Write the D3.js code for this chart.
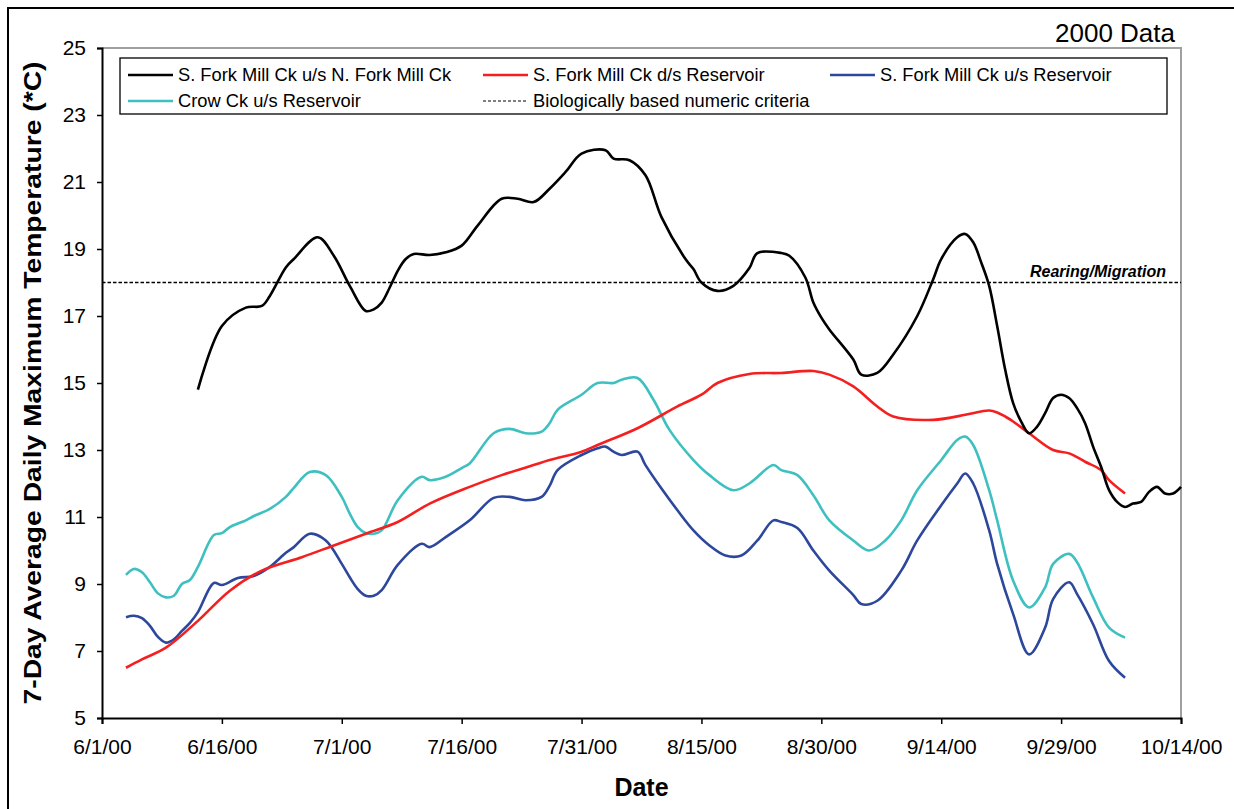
<!DOCTYPE html>
<html lang="en">
<head>
<meta charset="UTF-8" />
<title>2000 Data</title>
<style>
  body { margin: 0; background: #fff; }
  text { font-family: "Liberation Sans", Arial, sans-serif; }
</style>
</head>
<body>
<svg id="svg" width="1234" height="809"></svg>
<script src="https://d3js.org/d3.v7.min.js"></script>
<script>
// tick labels
const xTickDates = ["6/1", "6/16", "7/1", "7/16", "7/31", "8/15", "8/30", "9/14", "9/29", "10/14"];
const yTicks = [5, 7, 9, 11, 13, 15, 17, 19, 21, 23, 25];

// criteria line
const criteria = 18;
const criteriaLabel = "Rearing/Migration";

// S. Fork Mill Ck u/s N. Fork Mill Ck
const sfUpNorth = [
  ["6/13", 14.8], ["6/16", 16.7], ["6/19", 17.25], ["6/21", 17.3], ["6/22", 17.6],
  ["6/24", 18.45], ["6/25", 18.7], ["6/28", 19.35], ["6/30", 18.8], ["7/2", 17.9],
  ["7/4", 17.15], ["7/5", 17.2], ["7/6", 17.4], ["7/7", 17.85], ["7/8", 18.35],
  ["7/9", 18.7], ["7/10", 18.85], ["7/12", 18.82], ["7/14", 18.9], ["7/16", 19.1],
  ["7/18", 19.7], ["7/21", 20.5], ["7/23", 20.5], ["7/25", 20.4], ["7/27", 20.8],
  ["7/29", 21.3], ["7/31", 21.85], ["8/3", 21.95], ["8/4", 21.7], ["8/6", 21.65],
  ["8/8", 21.2], ["8/10", 19.95], ["8/13", 18.7], ["8/14", 18.4], ["8/15", 18.0],
  ["8/17", 17.75], ["8/19", 17.9], ["8/21", 18.43], ["8/22", 18.88], ["8/25", 18.88],
  ["8/26", 18.8], ["8/28", 18.15], ["8/29", 17.4], ["8/30", 16.95], ["8/31", 16.6],
  ["9/3", 15.7], ["9/4", 15.25], ["9/6", 15.3], ["9/8", 15.85], ["9/11", 17.0],
  ["9/13", 18.1], ["9/14", 18.7], ["9/16", 19.35], ["9/17", 19.45], ["9/18", 19.2],
  ["9/19", 18.6], ["9/20", 17.9], ["9/21", 16.7], ["9/22", 15.4], ["9/23", 14.4],
  ["9/24", 13.85], ["9/25", 13.5], ["9/26", 13.7], ["9/27", 14.1], ["9/28", 14.55],
  ["9/29", 14.65], ["9/30", 14.55], ["10/1", 14.25], ["10/2", 13.8], ["10/3", 13.1],
  ["10/4", 12.5], ["10/5", 11.8], ["10/6", 11.45], ["10/7", 11.3], ["10/8", 11.4],
  ["10/9", 11.45], ["10/10", 11.75], ["10/11", 11.9], ["10/12", 11.7], ["10/13", 11.7],
  ["10/14", 11.9]
];

// S. Fork Mill Ck d/s Reservoir
const sfDownRes = [
  ["6/4", 6.5], ["6/6", 6.75], ["6/9", 7.1], ["6/13", 7.9], ["6/17", 8.8],
  ["6/21", 9.4], ["6/26", 9.8], ["6/30", 10.15], ["7/4", 10.5], ["7/8", 10.85],
  ["7/12", 11.4], ["7/17", 11.9], ["7/21", 12.25], ["7/25", 12.55], ["7/27", 12.7],
  ["7/31", 12.95], ["8/2", 13.15], ["8/7", 13.65], ["8/12", 14.3], ["8/15", 14.65],
  ["8/17", 15.0], ["8/21", 15.27], ["8/25", 15.3], ["8/29", 15.36], ["8/31", 15.25],
  ["9/3", 14.9], ["9/6", 14.3], ["9/8", 14.0], ["9/13", 13.9], ["9/17", 14.05],
  ["9/19", 14.15], ["9/20", 14.18], ["9/21", 14.12], ["9/22", 14.0], ["9/23", 13.85],
  ["9/25", 13.5], ["9/28", 13.0], ["9/30", 12.9], ["10/2", 12.65], ["10/4", 12.4],
  ["10/5", 12.1], ["10/7", 11.7]
];

// S. Fork Mill Ck u/s Reservoir
const sfUpRes = [
  ["6/4", 8.01], ["6/5", 8.05], ["6/6", 7.98], ["6/7", 7.75], ["6/8", 7.42],
  ["6/9", 7.25], ["6/10", 7.35], ["6/11", 7.6], ["6/12", 7.84], ["6/13", 8.16],
  ["6/15", 9.03], ["6/16", 8.97], ["6/18", 9.18], ["6/20", 9.24], ["6/22", 9.51],
  ["6/24", 9.93], ["6/25", 10.1], ["6/27", 10.5], ["6/29", 10.3], ["7/1", 9.6],
  ["7/2", 9.2], ["7/3", 8.85], ["7/4", 8.65], ["7/5", 8.65], ["7/6", 8.82],
  ["7/8", 9.57], ["7/11", 10.2], ["7/12", 10.1], ["7/14", 10.4], ["7/17", 10.9],
  ["7/20", 11.57], ["7/22", 11.6], ["7/24", 11.5], ["7/26", 11.6], ["7/27", 11.93],
  ["7/28", 12.4], ["7/31", 12.85], ["8/2", 13.05], ["8/3", 13.1], ["8/4", 12.95],
  ["8/5", 12.85], ["8/7", 12.95], ["8/8", 12.55], ["8/10", 11.85], ["8/12", 11.2],
  ["8/14", 10.6], ["8/16", 10.15], ["8/18", 9.85], ["8/20", 9.85], ["8/22", 10.3],
  ["8/24", 10.9], ["8/25", 10.85], ["8/27", 10.67], ["8/29", 10.0], ["8/31", 9.4],
  ["9/3", 8.67], ["9/4", 8.4], ["9/6", 8.5], ["9/9", 9.4], ["9/11", 10.3],
  ["9/14", 11.35], ["9/16", 12.0], ["9/17", 12.3], ["9/18", 12.0], ["9/20", 10.6],
  ["9/21", 9.6], ["9/23", 8.1], ["9/25", 6.9], ["9/27", 7.7], ["9/28", 8.55],
  ["9/30", 9.05], ["10/1", 8.7], ["10/3", 7.8], ["10/5", 6.7], ["10/7", 6.2]
];

// Crow Ck u/s Reservoir
const crowUpRes = [
  ["6/4", 9.27], ["6/5", 9.45], ["6/6", 9.35], ["6/7", 9.05], ["6/8", 8.72],
  ["6/9", 8.6], ["6/10", 8.65], ["6/11", 9.0], ["6/12", 9.12], ["6/13", 9.51],
  ["6/15", 10.46], ["6/16", 10.52], ["6/17", 10.7], ["6/19", 10.9], ["6/20", 11.03],
  ["6/22", 11.24], ["6/24", 11.6], ["6/25", 11.87], ["6/27", 12.34], ["6/29", 12.25],
  ["7/1", 11.6], ["7/2", 11.1], ["7/3", 10.7], ["7/4", 10.52], ["7/5", 10.5],
  ["7/6", 10.6], ["7/8", 11.5], ["7/11", 12.2], ["7/12", 12.1], ["7/14", 12.2],
  ["7/16", 12.46], ["7/17", 12.6], ["7/20", 13.5], ["7/22", 13.63], ["7/24", 13.5],
  ["7/26", 13.55], ["7/27", 13.8], ["7/28", 14.2], ["7/31", 14.65], ["8/2", 15.0],
  ["8/4", 15.0], ["8/5", 15.1], ["8/7", 15.15], ["8/9", 14.5], ["8/11", 13.6],
  ["8/14", 12.7], ["8/16", 12.25], ["8/19", 11.8], ["8/21", 12.0], ["8/24", 12.55],
  ["8/25", 12.4], ["8/27", 12.25], ["8/29", 11.65], ["8/31", 10.9], ["9/3", 10.3],
  ["9/5", 10.0], ["9/7", 10.3], ["9/9", 10.9], ["9/11", 11.8], ["9/14", 12.7],
  ["9/16", 13.3], ["9/17", 13.4], ["9/18", 13.15], ["9/20", 11.8], ["9/21", 10.9],
  ["9/23", 9.1], ["9/25", 8.3], ["9/27", 8.9], ["9/28", 9.6], ["9/30", 9.9],
  ["10/1", 9.65], ["10/3", 8.6], ["10/5", 7.7], ["10/7", 7.4]
];

const series = [
  { name: "S. Fork Mill Ck u/s N. Fork Mill Ck", color: "#000000", data: sfUpNorth },
  { name: "S. Fork Mill Ck d/s Reservoir", color: "#f42020", data: sfDownRes },
  { name: "S. Fork Mill Ck u/s Reservoir", color: "#2c479c", data: sfUpRes },
  { name: "Crow Ck u/s Reservoir", color: "#3fc0c0", data: crowUpRes }
];

const width = 1234;
const height = 809;
const plotLeft = 102, plotRight = 1181, plotTop = 48, plotBottom = 718;

const parseDate = d3.timeParse("%m/%d/%Y");
const toDate = s => parseDate(s + "/2000");

const svg = d3.select("#svg");

// outer frame
svg.append("rect")
  .attr("x", 8).attr("y", 8)
  .attr("width", width + 20).attr("height", height + 20)
  .attr("fill", "none").attr("stroke", "#000").attr("stroke-width", 2);

// Scales
const x = d3.scaleTime()
  .domain([toDate(xTickDates[0]), toDate(xTickDates[xTickDates.length - 1])])
  .range([plotLeft, plotRight]);

const y = d3.scaleLinear()
  .domain([5, 25])
  .range([plotBottom, plotTop]);

// plot area border (grey top and right)
svg.append("path")
  .attr("d", `M${plotLeft},${plotTop}H${plotRight}V${plotBottom}`)
  .attr("fill", "none").attr("stroke", "#a0a0a0").attr("stroke-width", 2);

// criteria line
svg.append("line")
  .attr("x1", plotLeft).attr("x2", plotRight)
  .attr("y1", y(criteria)).attr("y2", y(criteria))
  .attr("stroke", "#000").attr("stroke-width", 1.3)
  .attr("stroke-dasharray", "3.5,2");

svg.append("text")
  .attr("x", 1166).attr("y", y(criteria) - 6)
  .attr("text-anchor", "end")
  .attr("font-size", 16).attr("font-weight", "bold").attr("font-style", "italic")
  .text(criteriaLabel);

// lines
const line = d3.line()
  .x(d => x(toDate(d[0])))
  .y(d => y(d[1]))
  .curve(d3.curveCatmullRom.alpha(0.5));

svg.append("g")
  .selectAll("path")
  .data(series.slice().reverse())
  .join("path")
  .attr("d", d => line(d.data))
  .attr("fill", "none")
  .attr("stroke", d => d.color)
  .attr("stroke-width", 2.6)
  .attr("stroke-linejoin", "round");

// Axis
const bottomAxis = d3.axisBottom(x)
  .tickValues(xTickDates.map(toDate))
  .tickFormat(d3.timeFormat("%-m/%-d/%y"))
  .tickSizeOuter(0)
  .tickSize(6)
  .tickPadding(15);

const leftAxis = d3.axisLeft(y)
  .tickValues(yTicks)
  .tickSizeOuter(0)
  .tickSize(5)
  .tickPadding(11);

const gx = svg.append("g")
  .attr("transform", `translate(0, ${plotBottom})`)
  .call(bottomAxis);

const gy = svg.append("g")
  .attr("transform", `translate(${plotLeft}, 0)`)
  .call(leftAxis);

[gx, gy].forEach(g => {
  g.select(".domain").attr("stroke", "#000").attr("stroke-width", 2);
  g.selectAll(".tick line").attr("stroke", "#000").attr("stroke-width", 1.5);
  g.selectAll(".tick text")
    .attr("font-family", "Liberation Sans, Arial, sans-serif")
    .attr("font-size", 21).attr("fill", "#000");
});

// Axis titles
svg.append("text")
  .attr("x", (plotLeft + plotRight) / 2).attr("y", 796)
  .attr("text-anchor", "middle")
  .attr("font-size", 25).attr("font-weight", "bold")
  .text("Date");

svg.append("text")
  .attr("transform", "translate(41, 383) rotate(-90)")
  .attr("text-anchor", "middle")
  .attr("font-size", 24).attr("font-weight", "bold")
  .attr("textLength", 643).attr("lengthAdjust", "spacingAndGlyphs")
  .text("7-Day Average Daily Maximum Temperature (*C)");

// chart label
svg.append("text")
  .attr("x", 1175).attr("y", 42)
  .attr("text-anchor", "end")
  .attr("font-size", 26)
  .text("2000 Data");

// Legend
const legend = svg.append("g");
legend.append("rect")
  .attr("x", 120).attr("y", 58)
  .attr("width", 1047).attr("height", 56)
  .attr("fill", "#fff").attr("stroke", "#000").attr("stroke-width", 1.3);

const legendItems = [
  { name: series[0].name, color: series[0].color, dash: null, col: 0, row: 0 },
  { name: series[1].name, color: series[1].color, dash: null, col: 1, row: 0 },
  { name: series[2].name, color: series[2].color, dash: null, col: 2, row: 0 },
  { name: series[3].name, color: series[3].color, dash: null, col: 0, row: 1 },
  { name: "Biologically based numeric criteria", color: "#000", dash: "3,2", col: 1, row: 1 }
];
const colX = [128, 483, 830];
const rowY = [75, 101];

const li = legend.selectAll("g.item")
  .data(legendItems)
  .join("g")
  .attr("class", "item")
  .attr("transform", d => `translate(${colX[d.col]}, ${rowY[d.row]})`);

li.append("line")
  .attr("x1", 0).attr("x2", 45)
  .attr("stroke", d => d.color)
  .attr("stroke-width", d => d.dash ? 1.2 : 2.6)
  .attr("stroke-dasharray", d => d.dash);

li.append("text")
  .attr("x", 50).attr("dy", "0.35em")
  .attr("font-size", 18.3)
  .text(d => d.name);
</script>
</body>
</html>
